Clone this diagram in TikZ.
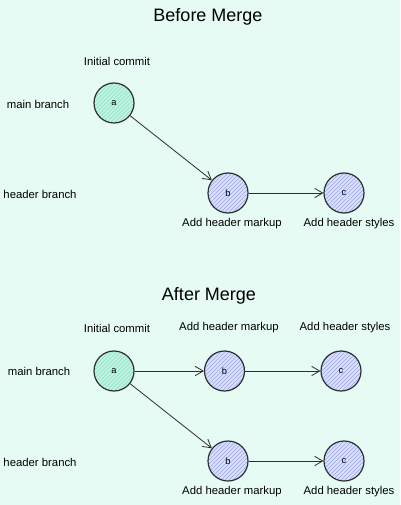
\documentclass[tikz,border=0pt]{standalone}
\usepackage{fontspec}
\setmainfont{Liberation Sans}
\usetikzlibrary{arrows.meta,patterns}
\definecolor{bg}{HTML}{E6FBF4}
\definecolor{ink}{HTML}{2E2E2E}
\definecolor{gfill}{HTML}{C4F2E2}
\definecolor{ghatch}{HTML}{8FDFC2}
\definecolor{bfill}{HTML}{DCE0F6}
\definecolor{bhatch}{HTML}{9CA8EC}
\tikzset{
  commitA/.style={circle, draw=ink, line width=0.9pt, minimum size=30pt, inner sep=0pt,
    preaction={fill=gfill}, pattern=north east lines, pattern color=ghatch, font=\fontsize{7}{8}\selectfont},
  commitB/.style={circle, draw=ink, line width=0.9pt, minimum size=30pt, inner sep=0pt,
    preaction={fill=bfill}, pattern=north east lines, pattern color=bhatch, font=\fontsize{7}{8}\selectfont},
  lbl/.style={font=\fontsize{8.5}{10}\selectfont, text=black, inner sep=1pt},
  ttl/.style={font=\fontsize{13.5}{15}\selectfont, text=black},
  arr/.style={draw=ink, line width=0.6pt, -{Straight Barb[length=6pt,width=7pt]}},
}
\begin{document}
\begin{tikzpicture}[x=0.75pt,y=-0.75pt]
\fill[bg] (0,0) rectangle (400,505);
\useasboundingbox (0,0) rectangle (400,505);
% Before merge
\node[ttl] (t1) at (208,17) {Before Merge};
\node[lbl] (ic1) at (117,61) {Initial commit};
\node[lbl] (mb1) at (38,104) {main branch};
\node[lbl] (hb1) at (40,194) {header branch};
\node[commitA] (a1) at (114,103) {a};
\node[commitB] (b1) at (228,193) {b};
\node[commitB] (c1) at (344,193) {c};
\node[lbl] (lb1) at (232,224) {Add header markup};
\node[lbl] (lc1) at (349,224) {Add header styles};
\draw[arr] (a1) -- (b1);
\draw[arr] (b1) -- (c1);
% After merge
\node[ttl] (t2) at (209,296) {After Merge};
\node[lbl] (ic2) at (117,328) {Initial commit};
\node[lbl] (lbt) at (229,328) {Add header markup};
\node[lbl] (lct) at (345,328) {Add header styles};
\node[lbl] (mb2) at (39,371) {main branch};
\node[lbl] (hb2) at (40,462) {header branch};
\node[commitA] (a2) at (114,371) {a};
\node[commitB] (b2) at (224.5,371) {b};
\node[commitB] (c2) at (341,371) {c};
\node[commitB] (b3) at (228,461) {b};
\node[commitB] (c3) at (344,461) {c};
\node[lbl] (lb3) at (232,492) {Add header markup};
\node[lbl] (lc3) at (349,492) {Add header styles};
\draw[arr] (a2) -- (b2);
\draw[arr] (b2) -- (c2);
\draw[arr] (a2) -- (b3);
\draw[arr] (b3) -- (c3);
\end{tikzpicture}
\end{document}
